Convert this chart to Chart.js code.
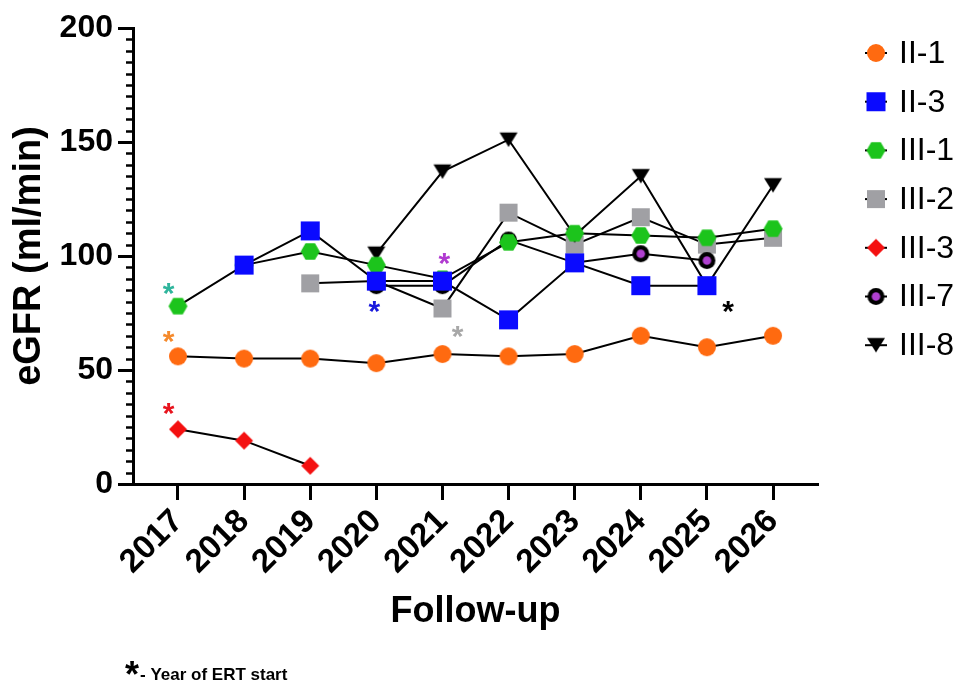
<!DOCTYPE html>
<html>
<head>
<meta charset="utf-8">
<title>eGFR follow-up</title>
<script src="https://cdn.jsdelivr.net/npm/chart.js@4.4.1/dist/chart.umd.min.js"></script>
<style>
  html, body { margin:0; padding:0; background:#fff; }
  #wrap { width:962px; height:688px; }
</style>
</head>
<body>
<div id="wrap"><canvas id="chart" width="962" height="688"></canvas></div>
<script>
// ======================================
// DATA
// ======================================

const years = [2017, 2018, 2019, 2020, 2021, 2022, 2023, 2024, 2025, 2026];
const yTicks = [0, 50, 100, 150, 200];

const seriesNames = ["II-1", "II-3", "III-1", "III-2", "III-3", "III-7", "III-8"];

const ii1  = [56, 55, 55, 53, 57, 56, 57, 65, 60, 65];
const ii3  = [null, 96, 111, 89, 89, 72, 97, 87, 87, null];
const iii1 = [78, 96, 102, 96, 90, 106, 110, 109, 108, 112];
const iii2 = [null, null, 88, 89, 77, 119, 105, 117, 105, 108];
const iii3 = [24, 19, 8, null, null, null, null, null, null, null];
const iii7 = [null, null, null, 87, 87, 107, 97, 101, 98, null];
const iii8 = [null, null, null, 101, 137, 151, 109, 135, 87, 131];

// "Year of ERT start" asterisks (data coordinates)
const ertX = [2016.86, 2016.86, 2016.86, 2019.97, 2021.03, 2021.23, 2025.32];
const ertY = [87, 66, 34, 79, 100, 68, 79];
const ertColors = ["#2fb59c", "#f58a2c", "#e8141e", "#1a1adc", "#b03ad0", "#a8a8a8", "#000000"];

// ======================================
// MARKERS
// ======================================

const FONT = "'Liberation Sans', Arial, sans-serif";

function makeMarker(shape, fill, size){

    const c = document.createElement("canvas");
    c.width = size + 6;
    c.height = size + 6;
    const g = c.getContext("2d");
    const cx = c.width / 2, cy = c.height / 2, r = size / 2;

    g.fillStyle = fill;
    g.beginPath();

    if(shape=="circle"){
        g.arc(cx, cy, r, 0, Math.PI * 2);
    }
    else if(shape=="square"){
        g.rect(cx - r, cy - r, size, size);
    }
    else if(shape=="hexagon"){
        for(let i = 0; i < 6; i++){
            const a = i * Math.PI / 3;
            g.lineTo(cx + r * Math.cos(a), cy + r * Math.sin(a));
        }
        g.closePath();
    }
    else if(shape=="diamond"){
        g.moveTo(cx, cy - r);
        g.lineTo(cx + r, cy);
        g.lineTo(cx, cy + r);
        g.lineTo(cx - r, cy);
        g.closePath();
    }
    else if(shape=="triangle"){
        g.moveTo(cx - r, cy - r * 0.8);
        g.lineTo(cx + r, cy - r * 0.8);
        g.lineTo(cx, cy + r * 0.8);
        g.closePath();
    }
    else if(shape=="ring"){
        g.fillStyle = "#000";
        g.arc(cx, cy, r, 0, Math.PI * 2);
        g.fill();
        g.beginPath();
        g.fillStyle = fill;
        g.arc(cx, cy, r * 0.5, 0, Math.PI * 2);
    }

    g.fill();
    return c;
}

const markers = [
    makeMarker("circle",   "#ff6a10", 18),
    makeMarker("square",   "#0a0aff", 19),
    makeMarker("hexagon",  "#1cc41c", 19),
    makeMarker("square",   "#a0a0a4", 18),
    makeMarker("diamond",  "#f41010", 18),
    makeMarker("ring",     "#b040d0", 17),
    makeMarker("triangle", "#000000", 18)
];

const seriesValues = [ii1, ii3, iii1, iii2, iii3, iii7, iii8];

// drawing order: lower = on top
const stackOrder = [5, 0, 1, 4, 6, 3, 2];

const datasets = seriesNames.map(function(name, i){
    return {
        label: name,
        data: years.map(function(yr, k){ return {x: yr, y: seriesValues[i][k]}; }),
        borderColor: "#000",
        borderWidth: 2,
        pointStyle: markers[i],
        pointRadius: 9,
        pointHoverRadius: 9,
        order: stackOrder[i],
        fill: false,
        tension: 0
    };
});

// ======================================
// EXTRA DRAWING (minor ticks, asterisks, legend, note)
// ======================================

const extras = {
    id: "extras",
    afterDraw: function(chart){

        const ctx = chart.ctx;
        const xs = chart.scales.x;
        const ys = chart.scales.y;

        // minor ticks every 5
        ctx.save();
        ctx.strokeStyle = "#000";
        ctx.lineWidth = 2.5;
        for(let v = 5; v < 200; v += 5){
            if(v % 50 == 0) continue;
            const py = Math.round(ys.getPixelForValue(v)) + 0.5;
            ctx.beginPath();
            ctx.moveTo(ys.right - 7, py);
            ctx.lineTo(ys.right, py);
            ctx.stroke();
        }
        ctx.restore();

        // asterisks
        ctx.save();
        ctx.font = "bold 30px " + FONT;
        ctx.textAlign = "center";
        ctx.textBaseline = "alphabetic";
        ertX.forEach(function(xv, i){
            ctx.fillStyle = ertColors[i];
            ctx.fillText("*", xs.getPixelForValue(xv), ys.getPixelForValue(ertY[i]) + 17);
        });
        ctx.restore();

        // legend
        ctx.save();
        seriesNames.forEach(function(name, i){
            const ly = 53 + i * 48.7;
            ctx.strokeStyle = "#000";
            ctx.lineWidth = 2;
            ctx.beginPath();
            ctx.moveTo(865, ly);
            ctx.lineTo(887, ly);
            ctx.stroke();
            const m = markers[i];
            ctx.drawImage(m, 876 - m.width / 2, ly - m.height / 2);
            ctx.fillStyle = "#000";
            ctx.font = "32px " + FONT;
            ctx.textAlign = "left";
            ctx.textBaseline = "middle";
            ctx.fillText(name, 899, ly + 1);
        });
        ctx.restore();

        // footnote
        ctx.save();
        ctx.fillStyle = "#000";
        ctx.textAlign = "left";
        ctx.textBaseline = "alphabetic";
        ctx.font = "bold 36px " + FONT;
        ctx.fillText("*", 125, 687);
        ctx.font = "bold 17px " + FONT;
        ctx.fillText("- Year of ERT start", 140, 680);
        ctx.restore();
    }
};

// ======================================
// CHART
// ======================================

new Chart(document.getElementById("chart"), {

    type: "line",

    data: { datasets: datasets },

    options: {
        responsive: false,
        animation: false,
        layout: { padding: { top: 28, right: 144, bottom: 52, left: 0 } },
        plugins: {
            legend: { display: false },
            tooltip: { enabled: false }
        },
        scales: {
            x: {
                type: "linear",
                min: 2016.32,
                max: 2026.68,
                afterBuildTicks: function(s){ s.ticks = years.map(function(v){ return {value: v}; }); },
                afterFit: function(s){ s.height = 152; },
                grid: { drawOnChartArea: false, tickLength: 16, tickWidth: 3, tickColor: "#000" },
                border: { display: true, width: 3, color: "#000" },
                ticks: {
                    color: "#000",
                    font: { family: FONT, size: 33, weight: "bold" },
                    minRotation: 45,
                    maxRotation: 45,
                    autoSkip: false,
                    padding: 2,
                    callback: function(v){ return String(v); }
                },
                title: {
                    display: true,
                    text: "Follow-up",
                    color: "#000",
                    font: { family: FONT, size: 36, weight: "bold" },
                    padding: { top: 0, bottom: 2 }
                }
            },
            y: {
                min: 0,
                max: 200,
                afterBuildTicks: function(s){ s.ticks = yTicks.map(function(v){ return {value: v}; }); },
                afterFit: function(s){ s.width = 133; },
                grid: { drawOnChartArea: false, tickLength: 15, tickWidth: 3, tickColor: "#000" },
                border: { display: true, width: 3, color: "#000" },
                ticks: {
                    color: "#000",
                    font: { family: FONT, size: 32, weight: "bold" },
                    padding: 5
                },
                title: {
                    display: true,
                    text: "eGFR (ml/min)",
                    color: "#000",
                    font: { family: FONT, size: 38, weight: "bold" },
                    padding: { top: 7, bottom: 0 }
                }
            }
        }
    },

    plugins: [extras]

});
</script>
</body>
</html>
